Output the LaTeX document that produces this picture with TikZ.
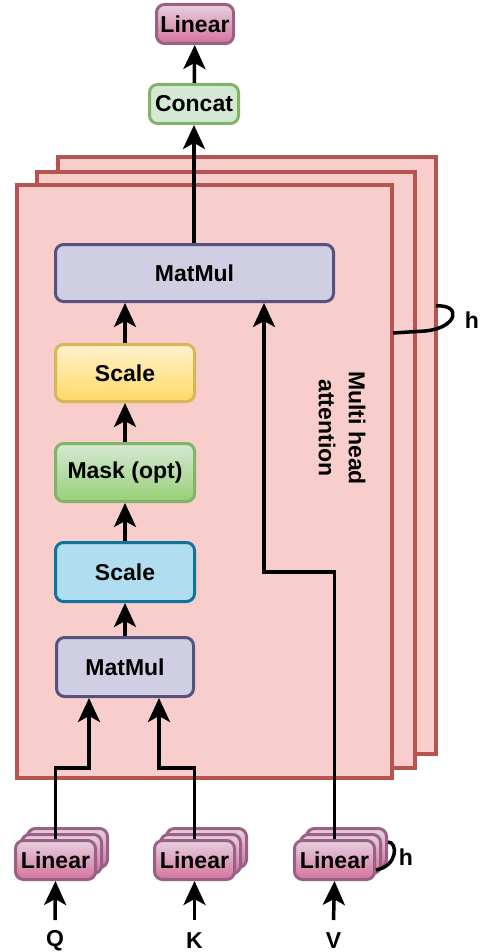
\documentclass[tikz,border=0pt]{standalone}
\usepackage{fontspec}
\setmainfont{Liberation Sans}
\usetikzlibrary{arrows.meta,calc}
\definecolor{pinkF}{HTML}{F8CECC}
\definecolor{pinkD}{HTML}{B85450}
\definecolor{linT}{HTML}{E6D0DE}
\definecolor{linB}{HTML}{D5739D}
\definecolor{linD}{HTML}{996185}
\definecolor{mmF}{HTML}{D0CEE2}
\definecolor{mmD}{HTML}{56517E}
\definecolor{yelT}{HTML}{FFF2CC}
\definecolor{yelB}{HTML}{FFD966}
\definecolor{yelD}{HTML}{D6B656}
\definecolor{grT}{HTML}{D5E8D4}
\definecolor{grB}{HTML}{97D077}
\definecolor{grD}{HTML}{82B366}
\definecolor{blF}{HTML}{B1DDF0}
\definecolor{blD}{HTML}{10739E}
\tikzset{
  txt/.style={font=\fontsize{23}{30}\selectfont\bfseries},
  box/.style={txt, draw, rounded corners=8pt, line width=3pt, inner sep=0pt, align=center},
  linbox/.style={box, draw=linD, top color=linT, bottom color=linB, minimum width=80pt, minimum height=39pt},
  mmbox/.style={box, draw=mmD, fill=mmF},
  layer/.style={draw=pinkD, fill=pinkF, line width=4pt},
  arr/.style={line width=3.5pt, -{Stealth[length=24pt,width=22pt,inset=6pt]}},
  wire/.style={line width=3.5pt},
}
\begin{document}
\begin{tikzpicture}[x=1pt,y=-1pt]
\useasboundingbox (0,0) rectangle (484,952);
% stacked attention layers
\draw[layer] (58,157) rectangle (436,754);
\draw[layer] (37,172) rectangle (415,768);
\node[layer, minimum width=375pt, minimum height=593pt, inner sep=0pt] (mha) at (204.5,481.5) {};
% top
\node[linbox, minimum width=77pt] (toplin) at (195,24) {Linear};
\node[box, draw=grD, fill=grT, minimum width=89pt, minimum height=39pt] (concat) at (194,104) {Concat};
% inside
\node[mmbox, minimum width=278pt, minimum height=57pt] (bigmm) at (194.5,273) {MatMul};
\node[box, draw=yelD, top color=yelT, bottom color=yelB, minimum width=139pt, minimum height=57pt] (scaleA) at (125,373) {Scale};
\node[box, draw=grD, top color=grT, bottom color=grB, minimum width=139pt, minimum height=58pt] (mask) at (125,472.5) {Mask (opt)};
\node[box, draw=blD, fill=blF, minimum width=139pt, minimum height=59pt] (scaleB) at (125,572) {Scale};
\node[mmbox, minimum width=137pt, minimum height=59pt] (smallmm) at (125,667) {MatMul};
\node[txt, rotate=-90, align=center, inner sep=0pt] (mhalabel) at (342,428) {Multi head\\attention};
% bottom linears
\foreach \n/\cx in {q/55.5,k/194.5,v/334.5}{
  \node[linbox] (\n b2) at (\cx+12,848) {};
  \node[linbox] (\n b1) at (\cx+6,854) {};
  \node[linbox] (\n lin) at (\cx,860) {Linear};
}
\node[txt, inner sep=0pt] (Q) at (55,941) {Q};
\node[txt, inner sep=0pt] (K) at (194.5,941) {K};
\node[txt, inner sep=0pt] (V) at (333.5,941) {V};
\coordinate (qin) at (55,920);
\coordinate (kin) at (194.5,920);
\coordinate (vin) at (333.5,920);
\draw[arr] (qin) -- (qlin.south);
\draw[arr] (kin) -- (klin.south);
\draw[arr] (vin) -- (vlin.south);
% connectors
\coordinate (qturn) at (89,768);
\coordinate (kturn) at (159,768);
\coordinate (vturn) at (264,572);
\draw[arr] (qlin.north) |- (qturn) -- (qturn |- smallmm.south);
\draw[arr] (klin.north) |- (kturn) -- (kturn |- smallmm.south);
\draw[arr] (vlin.north) |- (vturn) -- (vturn |- bigmm.south);
\draw[arr] (smallmm) -- (scaleB);
\draw[arr] (scaleB) -- (mask);
\draw[arr] (mask) -- (scaleA);
\draw[arr] (scaleA) -- (scaleA |- bigmm.south);
\draw[arr] (bigmm.north -| concat) -- (concat.south);
\draw[arr] (concat) -- (toplin);
% h loops
\coordinate (hA1) at (393,333);
\coordinate (hA2) at (436,306);
\draw[wire] (hA1) -- (425,331) .. controls (458,328) and (462,304) .. (hA2);
\node[txt, inner sep=0pt] (hA) at (472,320) {h};
\coordinate (hB1) at (376,870);
\draw[wire] (hB1) .. controls (398,866) and (398,842) .. (vb2.east |- 0,842);
\node[txt, inner sep=0pt] (hB) at (406,857) {h};
\end{tikzpicture}
\end{document}
